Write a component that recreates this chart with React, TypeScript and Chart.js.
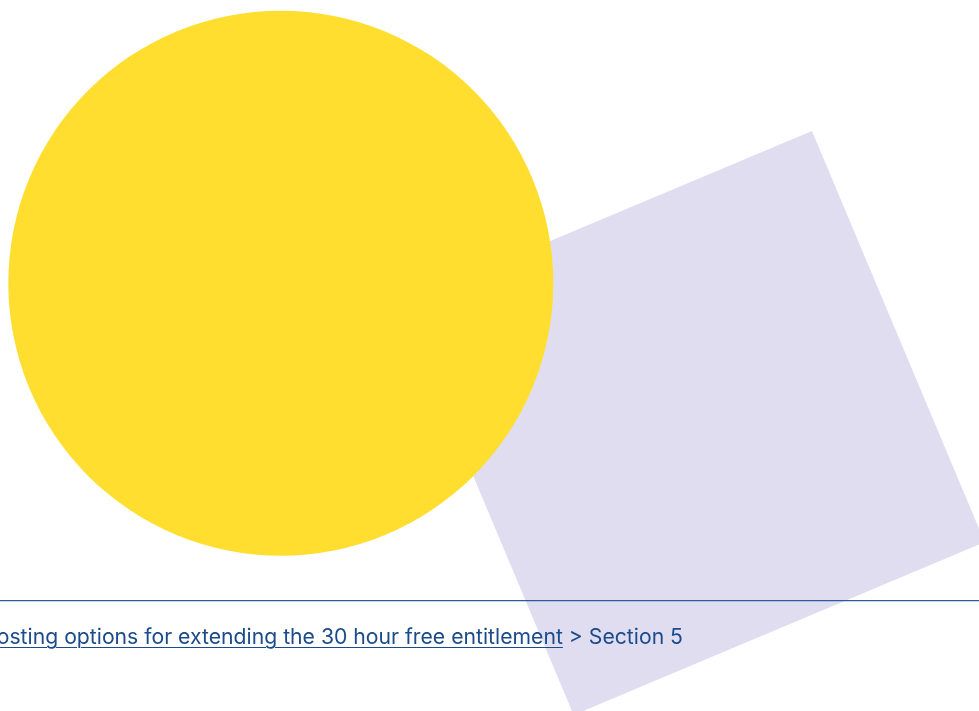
import React, { useEffect, useRef } from "react";
import { Chart, registerables } from "chart.js";

Chart.register(...registerables);

const WIDTH = 979;
const HEIGHT = 711;

// Decorative shapes (page coordinates)
const circleCenter = [280.8, 283.2];
const circleRadius = 272.5;
const squareCenter = [692.8, 423];
const squareSide = 446;
const squareRotation = -22.8;
const ruleY = 600.6;
const ruleX = [0, 979];

const breadcrumbLink = "Costing options for extending the 30 hour free entitlement";
const breadcrumbRest = " > Section 5";

const YELLOW = "#FFDE2F";
const LAVENDER = "#E0DDF0";
const NAVY = "#1B4B8C";
const RULE = "#2C5B98";

export default function App() {
  const canvasRef = useRef<HTMLCanvasElement | null>(null);

  useEffect(() => {
    document.body.style.margin = "0";
    const canvas = canvasRef.current;
    if (!canvas) return;
    const chart = new Chart(canvas, {
      type: "scatter",
      data: {
        datasets: [
          {
            label: "rule",
            data: ruleX.map((x) => ({ x, y: ruleY })),
            showLine: true,
            borderColor: RULE,
            borderWidth: 1.3,
            pointRadius: 0,
            order: 0,
            clip: false,
          } as any,
          {
            label: "circle",
            data: [{ x: circleCenter[0], y: circleCenter[1] }],
            pointStyle: "circle",
            pointRadius: circleRadius,
            backgroundColor: YELLOW,
            borderWidth: 0,
            order: 1,
            clip: false,
          } as any,
          {
            label: "square",
            data: [{ x: squareCenter[0], y: squareCenter[1] }],
            pointStyle: "rect",
            pointRadius: squareSide / Math.SQRT2,
            rotation: squareRotation,
            backgroundColor: LAVENDER,
            borderWidth: 0,
            order: 2,
            clip: false,
          } as any,
        ],
      },
      options: {
        animation: false,
        responsive: false,
        events: [],
        layout: { padding: 0, autoPadding: false } as any,
        plugins: {
          legend: { display: false },
          tooltip: { enabled: false },
          title: { display: false },
        },
        scales: {
          x: { type: "linear", min: 0, max: WIDTH, display: false },
          y: { type: "linear", min: 0, max: HEIGHT, reverse: true, display: false },
        },
      },
    });
    return () => chart.destroy();
  }, []);

  return (
    <div style={{ position: "fixed", left: 0, top: 0, width: WIDTH, height: HEIGHT, overflow: "hidden", background: "#fff" }}>
      <canvas ref={canvasRef} width={WIDTH} height={HEIGHT} style={{ position: "absolute", left: 0, top: 0, width: WIDTH, height: HEIGHT }} />
      <div
        style={{
          position: "absolute",
          right: WIDTH - 683,
          top: 624,
          whiteSpace: "nowrap",
          fontFamily: "Inter, sans-serif",
          fontSize: 21.2,
          lineHeight: "24px",
          color: NAVY,
          textAlign: "right",
        }}
      >
        <span style={{ textDecoration: "underline", textDecorationThickness: "1px", textUnderlineOffset: "3px" }}>{breadcrumbLink}</span>
        <span>{breadcrumbRest}</span>
      </div>
    </div>
  );
}
